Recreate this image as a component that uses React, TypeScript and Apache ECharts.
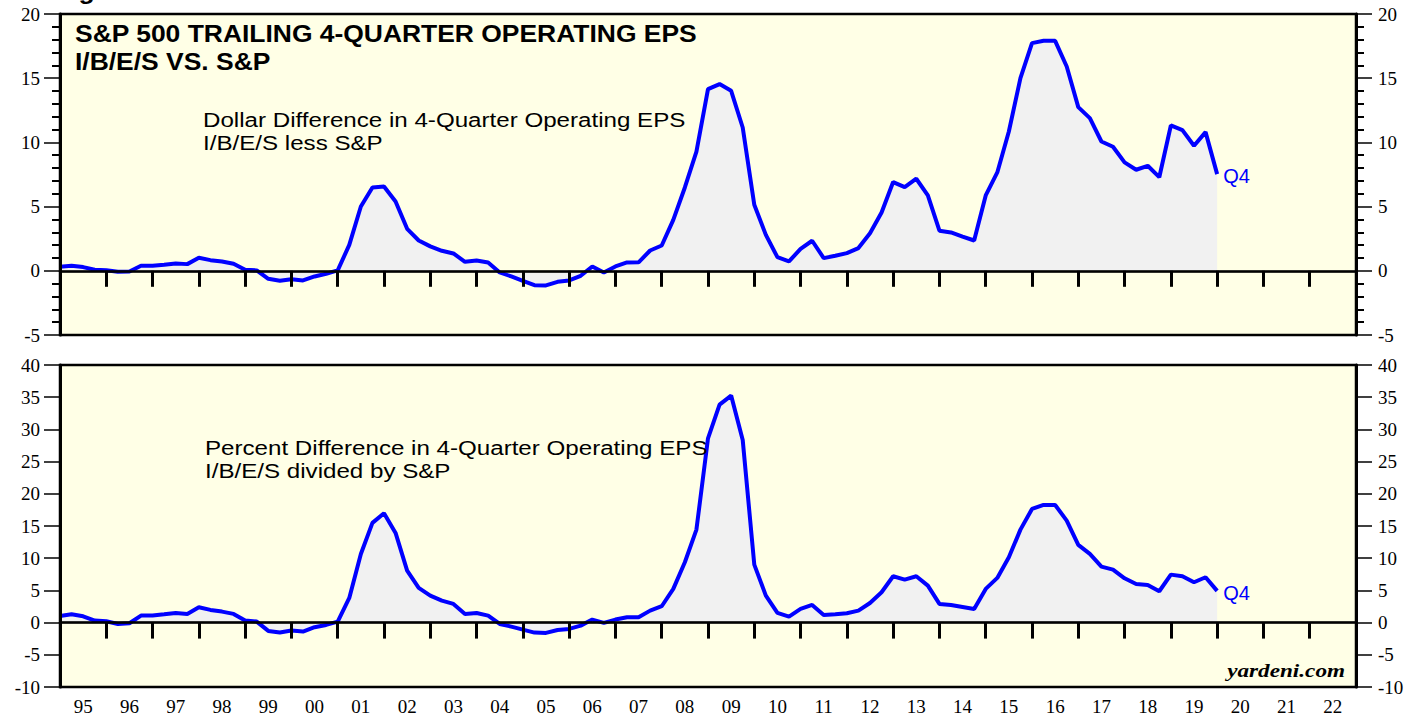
import React, { useEffect, useRef } from 'react';
import * as echarts from 'echarts';

// ---- data ----
const yearLabels = ['95','96','97','98','99','00','01','02','03','04','05','06','07','08','09','10','11','12','13','14','15','16','17','18','19','20','21','22'];
const firstQuarterEnd = 1995; // first observation plotted at start of 1995 (Q4 1994), quarterly thereafter
const dollarDiff = [
  0.31, 0.39, 0.29, 0.08, 0.05, -0.08, -0.05, 0.39, 0.39, 0.47,
  0.57, 0.52, 1.01, 0.83, 0.73, 0.55, 0.08, 0.03, -0.62, -0.78,
  -0.65, -0.75, -0.44, -0.23, 0.03, 2.02, 5.01, 6.49, 6.57, 5.40,
  3.27, 2.36, 1.90, 1.56, 1.35, 0.70, 0.80, 0.65, -0.13, -0.44,
  -0.78, -1.12, -1.14, -0.86, -0.75, -0.39, 0.34, -0.13, 0.34, 0.65,
  0.66, 1.58, 1.97, 3.97, 6.49, 9.29, 14.15, 14.54, 14.02, 11.16,
  5.14, 2.80, 1.06, 0.73, 1.71, 2.34, 0.99, 1.17, 1.38, 1.77,
  2.93, 4.54, 6.91, 6.52, 7.17, 5.87, 3.12, 2.99, 2.67, 2.36,
  5.87, 7.66, 10.85, 15.00, 17.73, 17.91, 17.91, 15.91, 12.75, 11.89,
  10.07, 9.66, 8.44, 7.87, 8.18, 7.29, 11.32, 10.96, 9.74, 10.80,
  7.53
];
const percentDiff = [
  1.04, 1.29, 0.98, 0.31, 0.21, -0.21, -0.10, 1.09, 1.09, 1.29,
  1.50, 1.35, 2.38, 1.97, 1.71, 1.35, 0.31, 0.16, -1.29, -1.55,
  -1.24, -1.40, -0.72, -0.36, 0.16, 3.83, 10.66, 15.48, 16.98, 13.92,
  8.07, 5.38, 4.19, 3.42, 2.90, 1.35, 1.50, 1.09, -0.21, -0.62,
  -1.09, -1.55, -1.60, -1.14, -0.98, -0.47, 0.47, -0.05, 0.47, 0.83,
  0.83, 1.86, 2.54, 5.23, 9.37, 14.44, 28.62, 33.85, 35.25, 28.36,
  9.01, 4.19, 1.50, 0.93, 2.12, 2.74, 1.19, 1.29, 1.45, 1.86,
  3.05, 4.71, 7.19, 6.68, 7.19, 5.75, 2.90, 2.74, 2.43, 2.12,
  5.23, 6.94, 10.14, 14.44, 17.65, 18.27, 18.27, 15.84, 12.06, 10.66,
  8.70, 8.23, 6.88, 6.00, 5.85, 4.87, 7.45, 7.19, 6.26, 7.04,
  4.92
];
const topTicks = { min: -5, max: 20, interval: 5 };
const bottomTicks = { min: -10, max: 40, interval: 5 };
const xRange = { min: 1995, max: 2023 };

const SERIF = '"Liberation Serif", "Times New Roman", serif';
const SANS = '"Liberation Sans", Arial, Helvetica, sans-serif';
const BLUE = '#0000ff';

const toPairs = (vals: number[]) => vals.map((v, i) => [firstQuarterEnd + i / 4, v]);

export default function App() {
  const ref = useRef<HTMLDivElement>(null);
  useEffect(() => {
    if (!ref.current) return;
    const chart = echarts.init(ref.current, null, { renderer: 'svg' });

    const catAxis = (gridIndex: number, showLabel: boolean) => ({
      gridIndex,
      type: 'category',
      data: yearLabels,
      boundaryGap: true,
      position: 'bottom',
      axisLine: { show: true, lineStyle: { color: '#000', width: 2.5 } },
      axisTick: { show: true, inside: false, interval: 0, length: 16, lineStyle: { color: '#000', width: 3 } },
      axisLabel: { show: showLabel, interval: 0, fontFamily: SERIF, fontSize: 19, color: '#000', margin: 10 },
      splitLine: { show: false },
      z: 5,
    });
    const valAxisX = (gridIndex: number) => ({
      gridIndex, type: 'value', min: xRange.min, max: xRange.max, show: false,
    });
    const yAx = (gridIndex: number, pos: 'left' | 'right', t: any, minor: boolean) => ({
      gridIndex,
      type: 'value',
      position: pos,
      min: t.min,
      max: t.max,
      interval: t.interval,
      axisLine: { show: true, onZero: false, lineStyle: { color: '#000', width: 3 } },
      axisTick: { show: true, inside: false, length: 16, lineStyle: { color: '#000', width: 1.5 } },
      minorTick: { show: minor, splitNumber: 5, length: 8, lineStyle: { color: '#000', width: 2 } },
      splitLine: { show: false },
      minorSplitLine: { show: false },
      axisLabel: { fontFamily: SERIF, fontSize: 19, color: '#000', margin: pos === 'left' ? 20 : 22 },
      z: 5,
    });
    const lineSeries = (xi: number, yi: number, vals: number[]) => ({
      type: 'line',
      xAxisIndex: xi,
      yAxisIndex: yi,
      data: toPairs(vals),
      symbol: 'none',
      lineStyle: { color: BLUE, width: 4 },
      itemStyle: { color: BLUE },
      areaStyle: { color: '#f1f1f1', opacity: 1, origin: 0 },
      endLabel: { show: true, formatter: 'Q4', color: BLUE, fontFamily: SANS, fontSize: 20, distance: 6, offset: [0, 2] },
      markLine: {
        silent: true,
        symbol: ['none', 'none'],
        label: { show: false },
        lineStyle: { color: '#000', width: 1.3, type: 'solid' },
        data: [{ yAxis: 0 }],
      },
      z: 3,
    });
    const txt = (text: string, x: number, y: number, size: number, weight: string, family: string, extra: any = {}) => ({
      type: 'text',
      x, y,
      scaleX: extra.scaleX ?? 1.15,
      style: {
        text, fill: extra.fill ?? '#000', fontSize: size, fontWeight: weight, fontFamily: family,
        fontStyle: extra.fontStyle ?? 'normal',
        align: extra.align ?? 'left', verticalAlign: 'middle',
      },
      z: 10,
    });

    chart.setOption({
      animation: false,
      backgroundColor: '#ffffff',
      grid: [
        { left: 60, right: 70, top: 14, height: 321, show: true, backgroundColor: '#ffffe6', borderColor: '#000', borderWidth: 2.5 },
        { left: 60, right: 70, top: 365, height: 322, show: true, backgroundColor: '#ffffe6', borderColor: '#000', borderWidth: 2.5 },
      ],
      xAxis: [valAxisX(0), catAxis(0, false), valAxisX(1), catAxis(1, true)],
      yAxis: [
        yAx(0, 'left', topTicks, true),
        yAx(0, 'right', topTicks, true),
        yAx(1, 'left', bottomTicks, false),
        yAx(1, 'right', bottomTicks, false),
      ],
      series: [
        lineSeries(0, 0, dollarDiff),
        lineSeries(2, 2, percentDiff),
      ],
      graphic: [
        txt('Figure 1.', 55, -9, 23, 'bold', SANS),
        txt('S&P 500 TRAILING 4-QUARTER OPERATING EPS', 75, 34, 23, 'bold', SANS),
        txt('I/B/E/S VS. S&P', 75, 62, 23, 'bold', SANS),
        txt('Dollar Difference in 4-Quarter Operating EPS', 203, 120, 21, 'normal', SANS),
        txt('I/B/E/S less S&P', 203, 143, 21, 'normal', SANS),
        txt('Percent Difference in 4-Quarter Operating EPS', 205, 448, 21, 'normal', SANS),
        txt('I/B/E/S divided by S&P', 205, 471, 21, 'normal', SANS),
        txt('yardeni.com', 1345, 671, 19, 'bold', SERIF, { align: 'right', fontStyle: 'italic', scaleX: 1.22 }),
      ],
    });
    return () => chart.dispose();
  }, []);
  return <div ref={ref} style={{ position: 'fixed', left: 0, top: 0, width: 1426, height: 717 }} />;
}
